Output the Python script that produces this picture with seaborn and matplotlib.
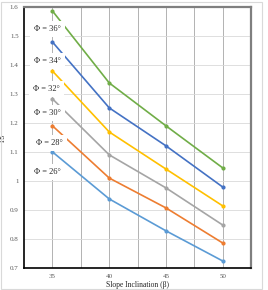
import numpy as np
import matplotlib.pyplot as plt
import matplotlib.patches as mpatches
import pandas as pd
import seaborn as sns

# data
slope = [35, 40, 45, 50]
fs_26 = [1.100, 0.938, 0.828, 0.724]
fs_28 = [1.190, 1.010, 0.907, 0.786]
fs_30 = [1.283, 1.090, 0.976, 0.848]
fs_32 = [1.379, 1.169, 1.041, 0.914]
fs_34 = [1.479, 1.252, 1.121, 0.979]
fs_36 = [1.586, 1.338, 1.190, 1.045]
phi_labels = ['Φ = 26°', 'Φ = 28°', 'Φ = 30°', 'Φ = 32°', 'Φ = 34°', 'Φ = 36°']
label_x = [34.55, 34.7, 34.55, 34.5, 34.55, 34.55]
label_y = [1.031, 1.131, 1.234, 1.317, 1.414, 1.524]

series = [fs_26, fs_28, fs_30, fs_32, fs_34, fs_36]
df = pd.DataFrame({
    'Slope': slope * 6,
    'FS': sum(series, []),
    'Phi': [p for p in phi_labels for _ in slope],
})

colors = ['#5B9BD5', '#ED7D31', '#A5A5A5', '#FFC000', '#4472C4', '#70AD47']
palette = dict(zip(phi_labels, colors))

sns.set_style('white')
plt.rcParams['font.family'] = ['Liberation Serif', 'DejaVu Serif']

fig = plt.figure(figsize=(2.68, 2.90), dpi=100)
ax = fig.add_axes([0.09, 0.076, 0.847, 0.9])

sns.lineplot(data=df, x='Slope', y='FS', hue='Phi', palette=palette,
             marker='o', markersize=3, markeredgewidth=0, linewidth=1.2,
             legend=False, ax=ax, zorder=3)

ax.set_xlim(32.5, 52.5)
ax.set_ylim(0.7, 1.6)
ax.set_xticks([35, 40, 45, 50])
ax.set_xticks([37.5, 42.5, 47.5], minor=True)
ax.set_yticks(np.round(np.arange(0.7, 1.61, 0.1), 1))
ax.set_yticklabels(['0.7', '0.8', '0.9', '1', '1.1', '1.2', '1.3', '1.4', '1.5', '1.6'])
ax.tick_params(axis='both', which='both', length=0, labelsize=5, colors='#595959', pad=4)

ax.yaxis.grid(True, color='#D9D9D9', linewidth=0.6)
ax.xaxis.grid(True, which='both', color='#A6A6A6', linewidth=0.6)
ax.set_axisbelow(True)

for side in ['left', 'bottom']:
    ax.spines[side].set_color('black')
    ax.spines[side].set_linewidth(1.2)
for side in ['top', 'right']:
    ax.spines[side].set_color('#7F7F7F')
    ax.spines[side].set_linewidth(1.6)

ax.set_xlabel('Slope Inclination (β)', fontsize=5.5, labelpad=2)
ax.set_ylabel('FS', fontsize=5.5, labelpad=2)

# labels sit in white boxes that hide part of each line
for lab, xx, yy in zip(phi_labels, label_x, label_y):
    ax.text(xx, yy, lab, fontsize=6, ha='center', va='center', zorder=5,
            bbox=dict(facecolor='white', edgecolor='none', pad=3))

# light outer frame
fig.patches.append(mpatches.Rectangle((0.004, 0.004), 0.975, 0.99, transform=fig.transFigure,
                                      fill=False, edgecolor='#D9D9D9', linewidth=0.8))

fig.savefig('out.png', dpi=100)
